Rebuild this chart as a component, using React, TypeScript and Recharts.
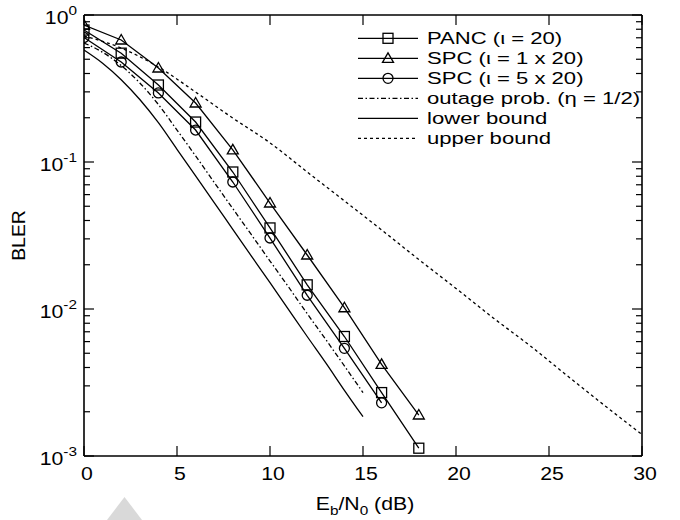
import React from 'react';
import { LineChart, Line, XAxis, YAxis, Legend, ReferenceLine, Label } from 'recharts';

// Eb/N0 (dB) grid of the simulated points
const simSnr = [0, 2, 4, 6, 8, 10, 12, 14, 16, 18];
const pancBler = [0.79, 0.55, 0.334, 0.187, 0.0855, 0.0356, 0.0146, 0.0065, 0.0027, 0.00113];
const spc1Bler = [0.855, 0.676, 0.436, 0.252, 0.121, 0.0526, 0.0233, 0.0102, 0.0042, 0.0019];
const spc5Snr = [0, 2, 4, 6, 8, 10, 12, 14, 16];
const spc5Bler = [0.703, 0.479, 0.295, 0.165, 0.0731, 0.0304, 0.0124, 0.0054, 0.0023];

// outage probability and lower bound
const boundSnr = [0, 1, 2, 3, 4, 5, 6, 7, 8, 9, 10, 11, 12, 13, 14, 15];
const outageBler = [0.645, 0.558, 0.453, 0.345, 0.246, 0.165, 0.11, 0.0727, 0.0482, 0.032, 0.0212, 0.0141, 0.0093, 0.0062, 0.0041, 0.0027];
const lowerBler = [0.578, 0.47, 0.363, 0.266, 0.185, 0.122, 0.0804, 0.053, 0.0348, 0.0229, 0.0151, 0.0099, 0.0065, 0.0043, 0.0028, 0.00185];

// upper bound
const upperSnr = [0, 2, 4, 6, 8, 10, 12, 14, 16, 18, 20, 22, 24, 26, 28, 30];
const upperBler = [0.72, 0.596, 0.443, 0.299, 0.199, 0.135, 0.0855, 0.0544, 0.0345, 0.0217, 0.0138, 0.0087, 0.0056, 0.0035, 0.0022, 0.0014];

const xTicks = [0, 5, 10, 15, 20, 25, 30];
const yDecades = [0.001, 0.01, 0.1];
const yTicks = [...yDecades.flatMap((d) => [1, 2, 3, 4, 5, 6, 7, 8, 9].map((k) => d * k)), 1];

const legendOrder = ['panc', 'spc1', 'spc5', 'outage', 'lower', 'upper'];

const pancData = simSnr.map((snr, i) => ({ snr, panc: pancBler[i] }));
const spc1Data = simSnr.map((snr, i) => ({ snr, spc1: spc1Bler[i] }));
const spc5Data = spc5Snr.map((snr, i) => ({ snr, spc5: spc5Bler[i] }));
const outageData = boundSnr.map((snr, i) => ({ snr, outage: outageBler[i] }));
const lowerData = boundSnr.map((snr, i) => ({ snr, lower: lowerBler[i] }));
const upperData = upperSnr.map((snr, i) => ({ snr, upper: upperBler[i] }));

const FONT = '"Liberation Sans", Arial, Helvetica, sans-serif';
const W = 680;
const H = 520;
const M = { top: 15, right: 38, bottom: 0, left: 0 };
const Y_W = 84;
const X_H = 64;
const PLOT_W = W - M.left - M.right - Y_W;
const PLOT_H = H - M.top - M.bottom - X_H;
const LW = 1.3;
// the original figure's lettering is a bit wider than plain Helvetica
const AXIS_SX = 1.18;
const LEG_SX = 1.3;

const Marker = ({ kind, cx, cy }: { kind: string; cx: number; cy: number }) => {
  if (kind === 'square')
    return <rect x={cx - 5} y={cy - 5} width={10} height={10} fill="none" stroke="#000" strokeWidth={LW} />;
  if (kind === 'triangle')
    return (
      <polygon
        points={`${cx},${cy - 5.5} ${cx - 5.5},${cy + 4} ${cx + 5.5},${cy + 4}`}
        fill="none"
        stroke="#000"
        strokeWidth={LW}
      />
    );
  if (kind === 'circle') return <circle cx={cx} cy={cy} r={5} fill="none" stroke="#000" strokeWidth={LW} />;
  return null;
};

const dotOf = (kind: string) => (p: any) => (
  <g key={`${kind}-${p.index}`}>
    <Marker kind={kind} cx={p.cx} cy={p.cy} />
  </g>
);

const seriesStyle: Record<string, { marker: string; dash?: string }> = {
  panc: { marker: 'square' },
  spc1: { marker: 'triangle' },
  spc5: { marker: 'circle' },
  outage: { marker: 'none', dash: '5 2.5 1.5 2.5' },
  lower: { marker: 'none' },
  upper: { marker: 'none', dash: '3 3' },
};

const Txt = ({ x, y, sx, anchor, size, children }: any) => (
  <text
    transform={`translate(${x},${y}) scale(${sx},1)`}
    textAnchor={anchor}
    fontSize={size}
    fontFamily={FONT}
    fill="#000"
  >
    {children}
  </text>
);

const isMajor = (v: number) => Math.abs(Math.log10(v) - Math.round(Math.log10(v))) < 1e-6;

const YTick = (props: any) => {
  const { x, y, payload } = props;
  const v = payload.value;
  const major = isMajor(v);
  const len = major ? 10 : 6;
  return (
    <g>
      <line x1={x} x2={x + len} y1={y} y2={y} stroke="#000" strokeWidth={1.2} />
      <line x1={x + PLOT_W} x2={x + PLOT_W - len} y1={y} y2={y} stroke="#000" strokeWidth={1.2} />
      {major && (
        <Txt x={x - 7} y={y + 9} sx={AXIS_SX} anchor="end" size={18}>
          10
          <tspan dy={-9} fontSize={13}>
            {String(Math.round(Math.log10(v)))}
          </tspan>
        </Txt>
      )}
    </g>
  );
};

const XTick = (props: any) => {
  const { x, y, payload } = props;
  return (
    <g>
      <line x1={x} x2={x} y1={y} y2={y - 10} stroke="#000" strokeWidth={1.2} />
      <line x1={x} x2={x} y1={y - PLOT_H} y2={y - PLOT_H + 10} stroke="#000" strokeWidth={1.2} />
      <Txt x={x + 3} y={y + 24} sx={AXIS_SX} anchor="middle" size={18}>
        {payload.value}
      </Txt>
    </g>
  );
};

const XTitle = (props: any) => {
  const vb = props.viewBox;
  return (
    <Txt x={vb.x + vb.width / 2 + 2} y={vb.y + 54} sx={AXIS_SX} anchor="middle" size={18}>
      E<tspan dy={5} fontSize={13}>b</tspan>
      <tspan dy={-5}>/N</tspan>
      <tspan dy={5} fontSize={13}>0</tspan>
      <tspan dy={-5}> (dB)</tspan>
    </Txt>
  );
};

const YTitle = (props: any) => {
  const vb = props.viewBox;
  const cx = 25;
  const cy = vb.y + vb.height / 2;
  return (
    <text
      transform={`translate(${cx},${cy}) rotate(-90) scale(1.08,1)`}
      textAnchor="middle"
      fontSize={18}
      fontFamily={FONT}
      fill="#000"
    >
      BLER
    </text>
  );
};

const LegendBox = (props: any) => {
  const payload = [...(props.payload || [])].sort(
    (a: any, b: any) => legendOrder.indexOf(a.dataKey) - legendOrder.indexOf(b.dataKey),
  );
  return (
    <svg width={330} height={130}>
      {payload.map((entry: any, i: number) => {
        const st = seriesStyle[entry.dataKey as string] || { marker: 'none' };
        const cy = 12.3 + i * 20;
        return (
          <g key={String(entry.dataKey)}>
            <line x1={8} x2={68} y1={cy} y2={cy} stroke="#000" strokeWidth={LW} strokeDasharray={st.dash} />
            <Marker kind={st.marker} cx={38} cy={cy} />
            <Txt x={77} y={cy + 6} sx={LEG_SX} anchor="start" size={17}>
              {entry.value}
            </Txt>
          </g>
        );
      })}
    </svg>
  );
};

export default function App() {
  return (
    <div style={{ position: 'absolute', left: 0, top: 0, width: W, height: H, background: '#fff' }}>
      <LineChart width={W} height={H} margin={M}>
        <XAxis
          dataKey="snr"
          type="number"
          domain={[0, 30]}
          ticks={xTicks}
          interval={0}
          height={X_H}
          tickSize={0}
          tickMargin={0}
          tickLine={false}
          tick={<XTick />}
          axisLine={{ stroke: '#000', strokeWidth: 1.6 }}
          allowDataOverflow
        >
          <Label content={<XTitle />} />
        </XAxis>
        <YAxis
          type="number"
          scale="log"
          domain={[0.001, 1]}
          ticks={yTicks}
          interval={0}
          width={Y_W}
          tickSize={0}
          tickMargin={0}
          tickLine={false}
          tick={<YTick />}
          axisLine={{ stroke: '#000', strokeWidth: 1.6 }}
          allowDataOverflow
        >
          <Label content={<YTitle />} />
        </YAxis>
        <ReferenceLine x={30} stroke="#000" strokeWidth={1.6} />
        <ReferenceLine y={1} stroke="#000" strokeWidth={1.6} />
        <Legend
          content={<LegendBox />}
          layout="horizontal"
          verticalAlign="middle"
          align="center"
          wrapperStyle={{ left: 350, top: 26, width: 330, height: 130 }}
        />
        <Line data={pancData} dataKey="panc" name="PANC (ι = 20)" type="linear" stroke="#000" strokeWidth={LW} dot={dotOf('square')} activeDot={false} isAnimationActive={false} />
        <Line data={spc1Data} dataKey="spc1" name="SPC (ι = 1 x 20)" type="linear" stroke="#000" strokeWidth={LW} dot={dotOf('triangle')} activeDot={false} isAnimationActive={false} />
        <Line data={spc5Data} dataKey="spc5" name="SPC (ι = 5 x 20)" type="linear" stroke="#000" strokeWidth={LW} dot={dotOf('circle')} activeDot={false} isAnimationActive={false} />
        <Line data={outageData} dataKey="outage" name="outage prob. (η = 1/2)" type="monotone" stroke="#000" strokeWidth={LW} strokeDasharray={seriesStyle.outage.dash} dot={false} activeDot={false} isAnimationActive={false} />
        <Line data={lowerData} dataKey="lower" name="lower bound" type="monotone" stroke="#000" strokeWidth={LW} dot={false} activeDot={false} isAnimationActive={false} />
        <Line data={upperData} dataKey="upper" name="upper bound" type="monotone" stroke="#000" strokeWidth={LW} strokeDasharray={seriesStyle.upper.dash} dot={false} activeDot={false} isAnimationActive={false} />
      </LineChart>
      <svg width={W} height={H} style={{ position: 'absolute', left: 0, top: 0, pointerEvents: 'none' }}>
        <polygon points="124.5,497 107,520 142,520" fill="#d9d9d9" />
      </svg>
    </div>
  );
}
